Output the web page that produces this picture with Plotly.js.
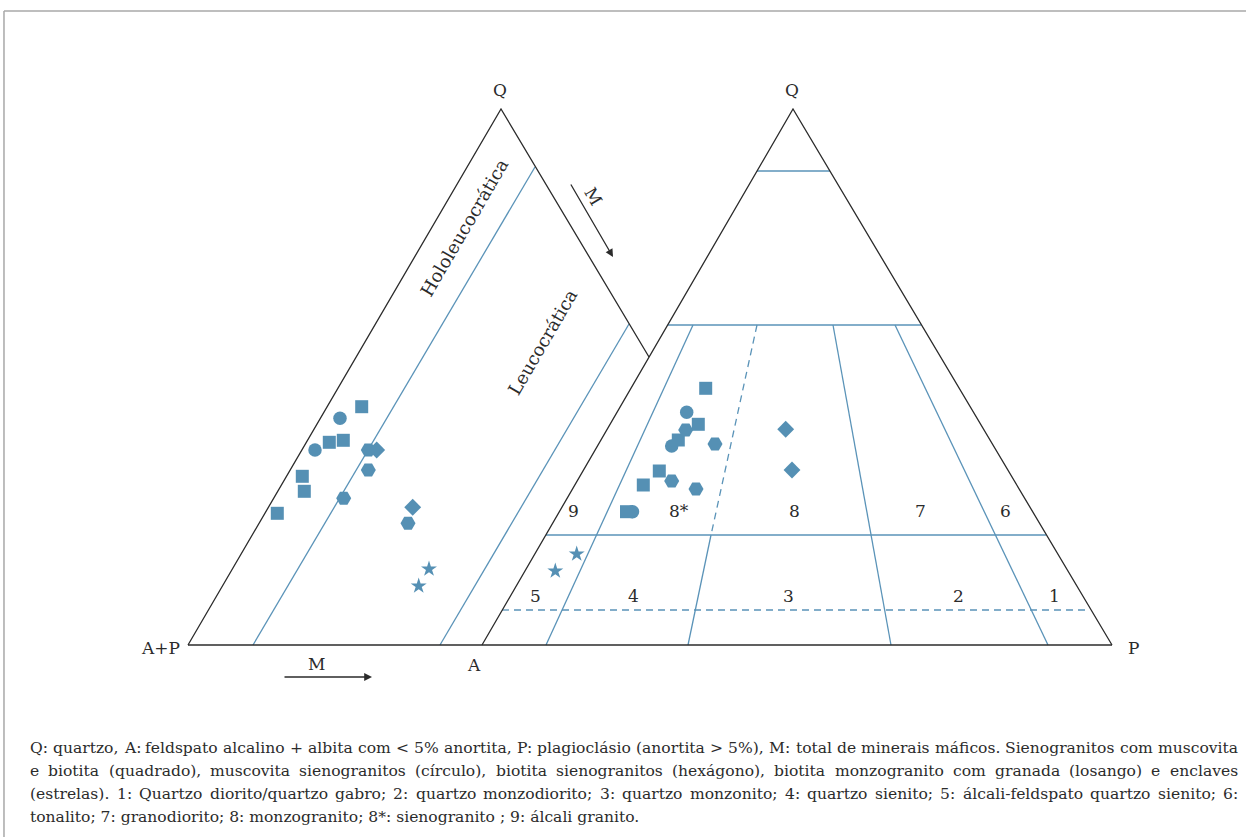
<!DOCTYPE html>
<html>
<head>
<meta charset="utf-8">
<script src="https://cdn.plot.ly/plotly-3.0.1.min.js"></script>
<style>html,body{margin:0;padding:0;background:#fff;}#chart{width:1246px;height:837px;}</style>
</head>
<body>
<div id="chart"></div>
<script>
// ---------- diagram frame (diagram units) ----------
const edgeX = [188, 501, 649, null, 482, 793, 1112, null, 188, 1112];
const edgeY = [645, 109, 357, null, 645, 109, 645, null, 645, 645];

const fieldX = [253, 535, null, 440, 629, null, 757, 830, null, 668, 921, null, 546, 1046, null,
                693, 546, null, 711, 688, null, 833, 891, null, 895, 1048];
const fieldY = [645, 167, null, 645, 324, null, 171, 171, null, 325, 325, null, 535, 535, null,
                325, 645, null, 535, 645, null, 325, 645, null, 325, 645];

const dashX = [502, 1090, null, 757, 711];
const dashY = [610, 610, null, 325, 535];

// ---------- samples ----------
const squareX  = [361.7, 329.3, 343.3, 302.3, 304.3, 277.3, 705.7, 698.3, 678.3, 659.3, 643.3, 626.5];
const squareY  = [406.7, 442.3, 440.3, 476.3, 491.3, 513.3, 388.3, 424.3, 440.0, 471.0, 485.0, 511.7];
const circleX  = [340.0, 315.0, 686.7, 671.7, 632.5];
const circleY  = [418.3, 450.0, 412.3, 446.0, 511.7];
const hexX     = [368.3, 368.3, 343.7, 408.0, 685.7, 715.0, 671.7, 696.0];
const hexY     = [450.0, 470.0, 498.3, 523.3, 430.0, 444.0, 481.0, 489.0];
const diamondX = [376.7, 412.7, 785.7, 792.0];
const diamondY = [450.0, 507.3, 429.3, 470.0];
const starX    = [429.0, 418.7, 576.7, 555.3];
const starY    = [569.0, 586.0, 554.0, 571.0];

// ---------- labels ----------
const vertexLabels = ["Q", "Q", "A+P", "A", "P"];
const vertexX = [500, 792, 160, 474, 1133];
const vertexY = [90, 90, 648, 665, 648];

const fieldLabels = ["9", "8*", "8", "7", "6", "5", "4", "3", "2", "1"];
const fieldLabelX = [573, 679, 794, 920, 1005, 535, 633, 788, 958, 1054];
const fieldLabelY = [511, 511, 511, 511, 511, 596, 596, 596, 596, 596];

const captionLines = [
  "Q: quartzo, A: feldspato alcalino + albita com < 5% anortita, P: plagioclásio (anortita > 5%), M: total de minerais máficos. Sienogranitos com muscovita",
  "e biotita (quadrado), muscovita sienogranitos (círculo), biotita sienogranitos (hexágono), biotita monzogranito com granada (losango) e enclaves",
  "(estrelas). 1: Quartzo diorito/quartzo gabro; 2: quartzo monzodiorito; 3: quartzo monzonito; 4: quartzo sienito; 5: álcali-feldspato quartzo sienito; 6:",
  "tonalito; 7: granodiorito; 8: monzogranito; 8*: sienogranito ; 9: álcali granito."
];

const FONT = "'DejaVu Serif', serif";
const INK = "#2b2b2b";
const BLUE = "#5a93b8";
const MARK = "#5590b4";

function esc(s){ return s.replace(/&/g,"&amp;").replace(/</g,"&lt;").replace(/>/g,"&gt;"); }

// ---------- traces ----------
const traces = [
  {x: fieldX, y: fieldY, mode: "lines", line: {color: BLUE, width: 1.3}, hoverinfo: "skip"},
  {x: dashX, y: dashY, mode: "lines", line: {color: BLUE, width: 1.3, dash: "7px,5px"}, hoverinfo: "skip"},
  {x: edgeX, y: edgeY, mode: "lines", line: {color: INK, width: 1.3}, hoverinfo: "skip"},
  {x: circleX, y: circleY, mode: "markers", marker: {symbol: "circle", size: 13.5, color: MARK}},
  {x: squareX, y: squareY, mode: "markers", marker: {symbol: "square", size: 13, color: MARK}},
  {x: hexX, y: hexY, mode: "markers", marker: {symbol: "hexagon2", size: 15, color: MARK}},
  {x: diamondX, y: diamondY, mode: "markers", marker: {symbol: "diamond", size: 13, color: MARK}},
  {x: starX, y: starY, mode: "markers", marker: {symbol: "star", size: 12, color: MARK}}
];

const annotations = [];
vertexLabels.forEach((t, i) => annotations.push({x: vertexX[i], y: vertexY[i], text: t, showarrow: false,
  xref: "x", yref: "y", font: {family: FONT, size: 17, color: INK}}));
fieldLabels.forEach((t, i) => annotations.push({x: fieldLabelX[i], y: fieldLabelY[i], text: t, showarrow: false,
  xref: "x", yref: "y", font: {family: FONT, size: 17, color: INK}}));

annotations.push({x: 464, y: 227, text: "Hololeucocrática", textangle: -59.7, showarrow: false,
  xref: "x", yref: "y", font: {family: FONT, size: 18, color: INK}});
annotations.push({x: 542, y: 342, text: "Leucocrática", textangle: -59.7, showarrow: false,
  xref: "x", yref: "y", font: {family: FONT, size: 18, color: INK}});
annotations.push({x: 593, y: 196, text: "M", textangle: 59.7, showarrow: false,
  xref: "x", yref: "y", font: {family: FONT, size: 17, color: INK}});
annotations.push({x: 316, y: 664, text: "M", showarrow: false,
  xref: "x", yref: "y", font: {family: FONT, size: 17, color: INK}});
// arrows
annotations.push({x: 372, y: 677, ax: 283, ay: 677, axref: "x", ayref: "y", xref: "x", yref: "y",
  text: "", showarrow: true, arrowhead: 2, arrowsize: 1.2, arrowwidth: 1.3, arrowcolor: INK});
annotations.push({x: 613, y: 257, ax: 570, ay: 183, axref: "x", ayref: "y", xref: "x", yref: "y",
  text: "", showarrow: true, arrowhead: 2, arrowsize: 1.2, arrowwidth: 1.3, arrowcolor: INK});

// ---------- caption (justified) ----------
const capX0 = 29, capX1 = 1237, capY0 = 748, capDY = 23;
const cv = document.createElement("canvas").getContext("2d");
function w(s, size){ cv.font = size + "px " + FONT; return cv.measureText(s).width; }
let capSize = 15 * (capX1 - capX0 - 4) / w(captionLines[0], 15);
capSize = Math.min(capSize, 17);
captionLines.forEach((line, li) => {
  const words = line.split(" ");
  const yy = capY0 + li * capDY;
  if (li === captionLines.length - 1) {
    annotations.push({x: capX0, y: yy, xanchor: "left", text: esc(line), showarrow: false, xref: "x", yref: "y",
      borderpad: 0, font: {family: FONT, size: capSize, color: INK}});
    return;
  }
  const widths = words.map(t => w(t, capSize));
  const total = widths.reduce((a, b) => a + b, 0);
  const gap = (capX1 - capX0 - total) / (words.length - 1);
  let xx = capX0;
  words.forEach((t, i) => {
    annotations.push({x: xx, y: yy, xanchor: "left", text: esc(t), showarrow: false, xref: "x", yref: "y",
      borderpad: 0, font: {family: FONT, size: capSize, color: INK}});
    xx += widths[i] + gap;
  });
});

const layout = {
  width: 1246, height: 837,
  margin: {l: 0, r: 0, t: 0, b: 0},
  paper_bgcolor: "#ffffff", plot_bgcolor: "#ffffff",
  showlegend: false,
  xaxis: {range: [0, 1246], visible: false, fixedrange: true},
  yaxis: {range: [837, 0], visible: false, fixedrange: true},
  annotations: annotations,
  shapes: [
    {type: "line", xref: "paper", yref: "paper", x0: 0.0032, x1: 1, y0: 1 - 11/837, y1: 1 - 11/837, line: {color: "#a8a8a8", width: 1.5}},
    {type: "line", xref: "paper", yref: "paper", x0: 0.0032, x1: 0.0032, y0: 0, y1: 1 - 11/837, line: {color: "#a8a8a8", width: 1.5}}
  ]
};

Plotly.newPlot("chart", traces, layout, {displayModeBar: false, staticPlot: true});
</script>
</body>
</html>
